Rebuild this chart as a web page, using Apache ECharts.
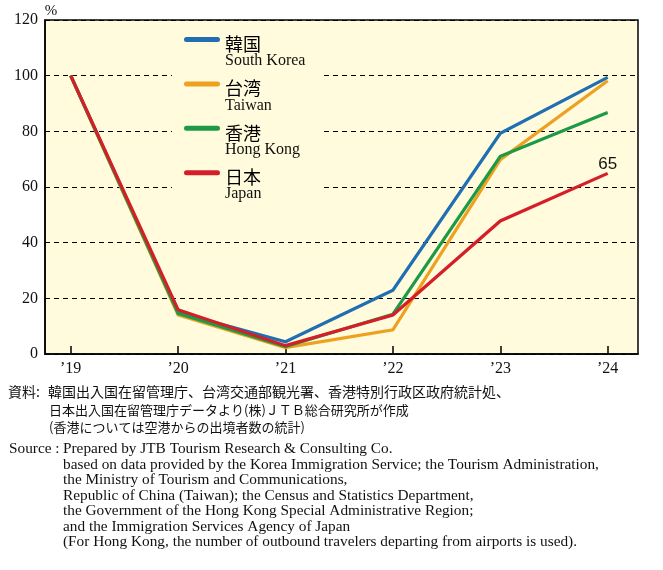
<!DOCTYPE html>
<html>
<head>
<meta charset="utf-8">
<script src="https://cdn.jsdelivr.net/npm/echarts@6.0.0/dist/echarts.min.js"></script>
<style>
  html, body { margin: 0; padding: 0; background: #fff; }
  #chart { width: 663px; height: 570px; }
</style>
</head>
<body>
<div id="chart"></div>
<script>
// 横軸（年）
const years = ['\u201919', '\u201920', '\u201921', '\u201922', '\u201923', '\u201924'];
const yTicks = [0, 20, 40, 60, 80, 100, 120];

// 2019年=100 とした指数
const korea    = [100, 15.0, 4.4, 22.9, 79.3, 99.4];
const taiwan   = [100, 14.0, 2.3,  8.7, 69.8, 98.2];
const hongKong = [100, 14.6, 2.7, 14.3, 71.0, 86.8];
const japan    = [100, 15.9, 3.0, 14.0, 47.8, 64.9];

const namesZh = ['韓国', '台湾', '香港', '日本'];
const namesEn = ['South Korea', 'Taiwan', 'Hong Kong', 'Japan'];
const colors  = ['#1f6fb2', '#eea021', '#1e9a47', '#d41f28'];

// 注記
const notesJa = [
  '韓国出入国在留管理庁、台湾交通部観光署、香港特別行政区政府統計処、',
  '日本出入国在留管理庁データより(株)ＪＴＢ総合研究所が作成',
  '(香港については空港からの出境者数の統計)'
];
const notesEn = [
  'Prepared by JTB Tourism Research & Consulting Co.',
  'based on data provided by the Korea Immigration Service; the Tourism Administration,',
  'the Ministry of Tourism and Communications,',
  'Republic of China (Taiwan); the Census and Statistics Department,',
  'the Government of the Hong Kong Special Administrative Region;',
  'and the Immigration Services Agency of Japan',
  '(For Hong Kong, the number of outbound travelers departing from airports is used).'
];

const chart = echarts.init(document.getElementById('chart'));

const allSeries = [korea, taiwan, hongKong, japan];
const lastIdx = years.length - 1;

const series = allSeries.map((vals, s) => ({
  name: namesZh[s],
  type: 'line',
  xAxisIndex: 1,
  yAxisIndex: 1,
  symbol: 'circle',
  symbolSize: 0,
  showSymbol: true,
  color: colors[s],
  lineStyle: { width: 3.2, color: colors[s], join: 'miter' },
  emphasis: { disabled: true },
  data: vals.map((v, i) => {
    // 日本の最新値だけラベルを出す
    if (s === 3 && i === lastIdx) {
      return {
        value: v,
        label: {
          show: true,
          position: 'top',
          distance: 1,
          formatter: p => Math.round(p.value),
          fontFamily: 'Liberation Sans Narrow, Liberation Sans, sans-serif',
          fontSize: 17,
          color: '#111'
        }
      };
    }
    return v;
  })
}));

// 注記テキスト
const graphics = [];
graphics.push({ type: 'text', x: 8, y: 392, style: { text: '資料:', font: '14px "Noto Sans CJK JP"', fill: '#111', verticalAlign: 'middle' } });
notesJa.forEach((t, i) => {
  graphics.push({
    type: 'text', x: i === 0 ? 48 : 49, y: [392, 410, 427][i],
    style: { text: t, font: (i === 0 ? '14px' : '13px') + ' "Noto Sans CJK JP"', fill: '#111', verticalAlign: 'middle' }
  });
});
graphics.push({ type: 'text', x: 9, y: 449, style: { text: 'Source :', font: '15.3px "Liberation Serif"', fill: '#111', verticalAlign: 'middle' } });
notesEn.forEach((t, i) => {
  graphics.push({
    type: 'text', x: 63, y: 449 + i * 15.5,
    style: { text: t, font: '15.3px "Liberation Serif"', fill: '#111', verticalAlign: 'middle' }
  });
});

chart.setOption({
  animation: false,
  grid: [
    // 枠と背景
    {
      z: -1,
      left: 45, right: 25, top: 20, bottom: 216,
      show: true,
      backgroundColor: '#fffbdc',
      borderColor: '#000',
      borderWidth: 1.5
    },
    // データ描画用（年の位置）
    { left: 70.7, right: 55.3, top: 20, bottom: 216 }
  ],
  legend: {
    orient: 'vertical',
    left: 172,
    top: 22,
    padding: [13, 15, 6, 12],
    backgroundColor: '#fffbdc',
    itemWidth: 36,
    itemHeight: 30,
    itemGap: 10.4,
    itemTextGap: 5,
    align: 'left',
    selectedMode: false,
    icon: 'path://M2.5,0 L33.5,0 A2.5,2.5 0 0 1 33.5,5 L2.5,5 A2.5,2.5 0 0 1 2.5,0 Z M0,30 L36,30',
    itemStyle: { borderWidth: 0 },
    data: namesZh,
    formatter: name => '{zh|' + name + '}\n{en|' + namesEn[namesZh.indexOf(name)] + '}',
    textStyle: {
      rich: {
        zh: { fontFamily: 'Noto Sans CJK JP', fontSize: 18, lineHeight: 18, color: '#000' },
        en: { fontFamily: 'Liberation Serif', fontSize: 16, lineHeight: 16, color: '#111' }
      }
    }
  },
  xAxis: [
    {
      gridIndex: 0,
      type: 'value',
      min: 0,
      max: 1,
      axisLine: { show: true, onZero: false, lineStyle: { color: '#000', width: 1.5 } },
      axisTick: { show: false },
      axisLabel: { show: false },
      splitLine: { show: false }
    },
    {
      gridIndex: 1,
      type: 'category',
      boundaryGap: false,
      data: years,
      axisLine: { show: false },
      axisTick: { show: true, inside: true, length: 8, lineStyle: { color: '#000', width: 1.5 } },
      axisLabel: {
        margin: 7,
        fontFamily: 'Liberation Serif',
        fontSize: 16,
        color: '#111'
      },
      splitLine: { show: false }
    }
  ],
  yAxis: [
    {
      gridIndex: 0,
      type: 'value',
      min: yTicks[0],
      max: yTicks[yTicks.length - 1],
      interval: 20,
      name: '%',
      nameGap: 1,
      nameTextStyle: { fontFamily: 'Liberation Serif', fontSize: 15, color: '#111', padding: [0, 0, 0, 12] },
      axisLine: { show: true, onZero: false, lineStyle: { color: '#000', width: 1.5 } },
      axisTick: { show: false },
      axisLabel: {
        margin: 7,
        fontFamily: 'Liberation Serif',
        fontSize: 16,
        color: '#111'
      },
      splitLine: {
        show: true,
        lineStyle: { color: '#000', width: 1, type: [5, 4] }
      }
    },
    {
      gridIndex: 1,
      type: 'value',
      min: yTicks[0],
      max: yTicks[yTicks.length - 1],
      show: false
    }
  ],
  series: series,
  graphic: graphics
});
</script>
</body>
</html>
